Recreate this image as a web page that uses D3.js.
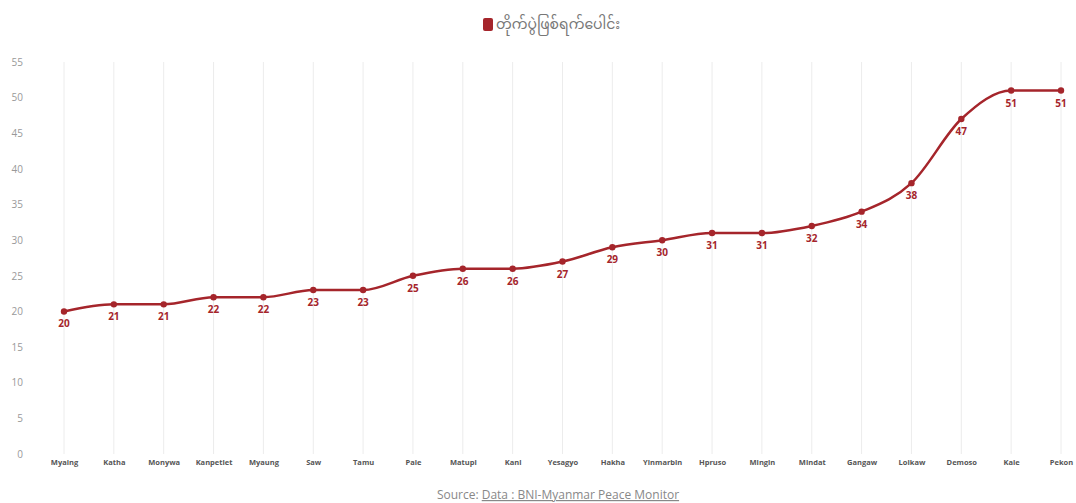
<!DOCTYPE html>
<html><head><meta charset="utf-8">
<script src="https://cdn.jsdelivr.net/npm/d3@7"></script>
<style>body{margin:0;background:#fff;} svg{display:block;}</style>
</head><body><svg id="c" width="1076" height="503"></svg>
<script>
const categories = ["Myaing","Katha","Monywa","Kanpetlet","Myaung","Saw","Tamu","Pale","Matupi","Kani","Yesagyo","Hakha","Yinmarbin","Hpruso","Mingin","Mindat","Gangaw","Loikaw","Demoso","Kale","Pekon"];
const values = [20,21,21,22,22,23,23,25,26,26,27,29,30,31,31,32,34,38,47,51,51];
const yTicks = [0,5,10,15,20,25,30,35,40,45,50,55];
const seriesName = "တိုက်ပွဲဖြစ်ရက်ပေါင်း";
const sourceLabel = "Source: ";
const sourceLink = "Data : BNI-Myanmar Peace Monitor";

const svg = d3.select("#c");
const color = "#a5252b";
const x = d3.scalePoint().domain(categories).range([64, 1061]);
const y = d3.scaleLinear().domain([0, 55]).range([454, 62]);

// vertical gridlines
svg.append("g").selectAll("line").data(categories).join("line")
  .attr("x1", d => x(d)).attr("x2", d => x(d))
  .attr("y1", y(55)).attr("y2", y(0))
  .attr("stroke", "#ececec").attr("stroke-width", 1);

// y axis
const yAxis = svg.append("g").attr("transform", "translate(23,0)")
  .call(d3.axisLeft(y).tickValues(yTicks).tickSize(0).tickPadding(0));
yAxis.select(".domain").remove();
yAxis.selectAll("text").attr("font-family", "Open Sans, sans-serif").attr("font-size", 10).attr("fill", "#999");

// x axis
const xAxis = svg.append("g").attr("transform", "translate(0,460)")
  .call(d3.axisBottom(x).tickSize(0).tickPadding(0));
xAxis.select(".domain").remove();
xAxis.selectAll("text").attr("font-family", "Open Sans, sans-serif").attr("font-size", 7.5).attr("font-weight", "bold").attr("fill", "#555");

// line
const line = d3.line().x((d, i) => x(categories[i])).y(d => y(d)).curve(d3.curveMonotoneX);
svg.append("path").datum(values).attr("d", line)
  .attr("fill", "none").attr("stroke", color).attr("stroke-width", 2.5);

svg.append("g").selectAll("circle").data(values).join("circle")
  .attr("cx", (d, i) => x(categories[i])).attr("cy", d => y(d)).attr("r", 3.2).attr("fill", color);

svg.append("g").selectAll("text").data(values).join("text")
  .attr("x", (d, i) => x(categories[i])).attr("y", d => y(d) + 16)
  .attr("text-anchor", "middle").attr("font-family", "Open Sans, sans-serif")
  .attr("font-size", 10).attr("font-weight", "bold").attr("fill", color)
  .text(d => d);

// legend
svg.append("rect").attr("x", 483).attr("y", 18).attr("width", 10).attr("height", 13).attr("rx", 2).attr("fill", color);
svg.append("text").attr("x", 496).attr("y", 29).attr("font-family", "Noto Sans Myanmar, Noto Sans, sans-serif")
  .attr("font-size", 14).attr("fill", "#777").text(seriesName);

// source
const src = svg.append("text").attr("x", 558).attr("y", 499).attr("text-anchor", "middle")
  .attr("font-family", "Open Sans, sans-serif").attr("font-size", 12).attr("fill", "#888");
src.append("tspan").text(sourceLabel);
src.append("tspan").attr("text-decoration", "underline").text(sourceLink);
</script></body></html>
